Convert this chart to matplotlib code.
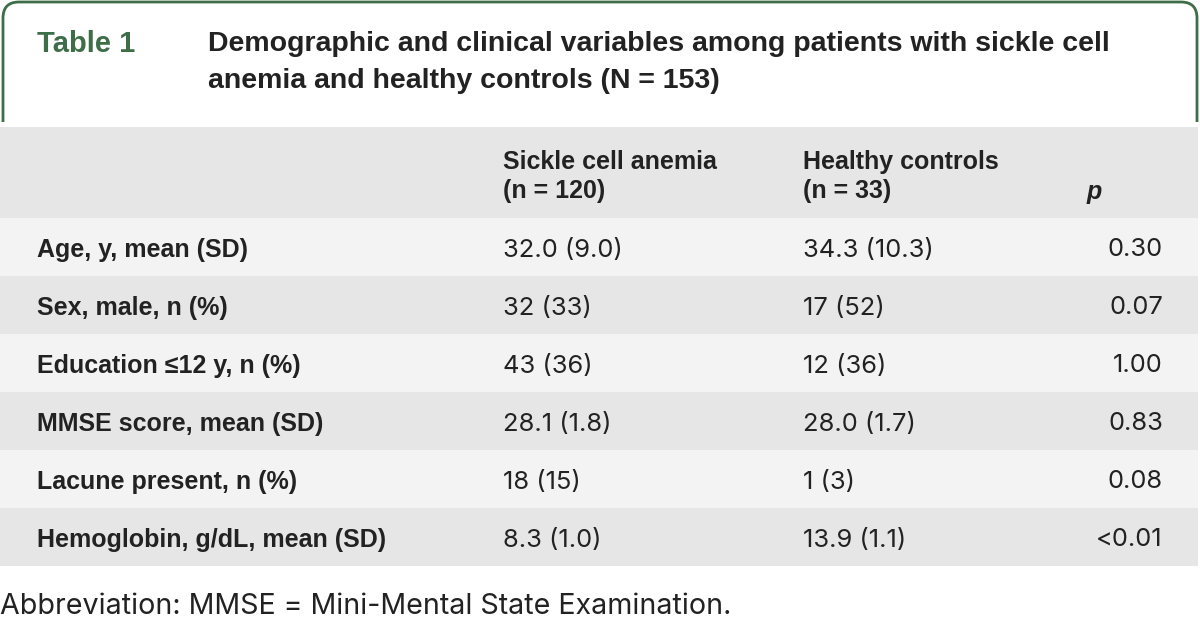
import matplotlib
matplotlib.use("Agg")
import matplotlib.pyplot as plt
from matplotlib.path import Path
from matplotlib.patches import PathPatch, Rectangle

# Table content
title_tag = "Table 1"
title_lines = ["Demographic and clinical variables among patients with sickle cell",
               "anemia and healthy controls (N = 153)"]
col_heads = [("Sickle cell anemia", "(n = 120)"), ("Healthy controls", "(n = 33)")]
row_labels = ["Age, y, mean (SD)", "Sex, male, n (%)", "Education \u226412 y, n (%)",
              "MMSE score, mean (SD)", "Lacune present, n (%)", "Hemoglobin, g/dL, mean (SD)"]
sca_vals = ["32.0 (9.0)", "32 (33)", "43 (36)", "28.1 (1.8)", "18 (15)", "8.3 (1.0)"]
hc_vals = ["34.3 (10.3)", "17 (52)", "12 (36)", "28.0 (1.7)", "1 (3)", "13.9 (1.1)"]
p_vals = ["0.30", "0.07", "1.00", "0.83", "0.08", "<0.01"]
footnote = "Abbreviation: MMSE = Mini-Mental State Examination."

plt.rcParams['font.family'] = ['Liberation Sans', 'DejaVu Sans']
REG = ['Inter', 'DejaVu Sans']
GREEN = "#3d6e47"
DARK = "#222222"
FSB = 18    # bold labels
FSR = 18.4  # regular values

fig = plt.figure(figsize=(12, 6.2), dpi=100)
ax = fig.add_axes([0, 0, 1, 1])
ax.set_xlim(0, 1200)
ax.set_ylim(620, 0)
ax.axis('off')

# green frame with rounded top corners
r = 16
x0, x1, yt, yb = 3, 1197, 2, 122
verts = [(x0, yb), (x0, yt + r), (x0, yt), (x0 + r, yt), (x1 - r, yt), (x1, yt),
         (x1, yt + r), (x1, yb)]
codes = [Path.MOVETO, Path.LINETO, Path.CURVE3, Path.CURVE3, Path.LINETO,
         Path.CURVE3, Path.CURVE3, Path.LINETO]
ax.add_patch(PathPatch(Path(verts, codes), fill=False, edgecolor=GREEN, lw=2))

ax.text(37, 44, title_tag, color=GREEN, fontsize=21, fontweight='bold', va='center')
for i, line in enumerate(title_lines):
    ax.text(208, 44 + i * 37, line, color=DARK, fontsize=20.5, fontweight='bold',
            va='center')

# header band
ax.add_patch(Rectangle((0, 127), 1198, 91, color="#e6e6e6", lw=0))
for (l1, l2), x in zip(col_heads, [503, 803]):
    ax.text(x, 162, l1, fontsize=FSB, fontweight='bold', color=DARK, va='center')
    ax.text(x, 191, l2, fontsize=FSB, fontweight='bold', color=DARK, va='center')
ax.text(1087, 192, "p", fontsize=FSB, fontweight='bold', style='italic', color=DARK,
        va='center')

# body rows
row_h = 58
top = 218
for i, (lab, a, b, p) in enumerate(zip(row_labels, sca_vals, hc_vals, p_vals)):
    y0 = top + i * row_h
    ax.add_patch(Rectangle((0, y0), 1198, row_h,
                           color="#f3f3f3" if i % 2 == 0 else "#e6e6e6", lw=0))
    yc = y0 + row_h / 2 + 3
    ax.text(37, yc, lab, fontsize=FSB, fontweight='bold', color=DARK, va='center')
    ax.text(503, yc, a, fontsize=FSR, family=REG, color=DARK, va='center')
    ax.text(803, yc, b, fontsize=FSR, family=REG, color=DARK, va='center')
    ax.text(1163, yc, p, fontsize=FSR, family=REG, color=DARK, va='center', ha='right')

ax.text(0, 607, footnote, fontsize=20.6, family=REG, color=DARK, va='center')

fig.savefig("out.png", dpi=100)
